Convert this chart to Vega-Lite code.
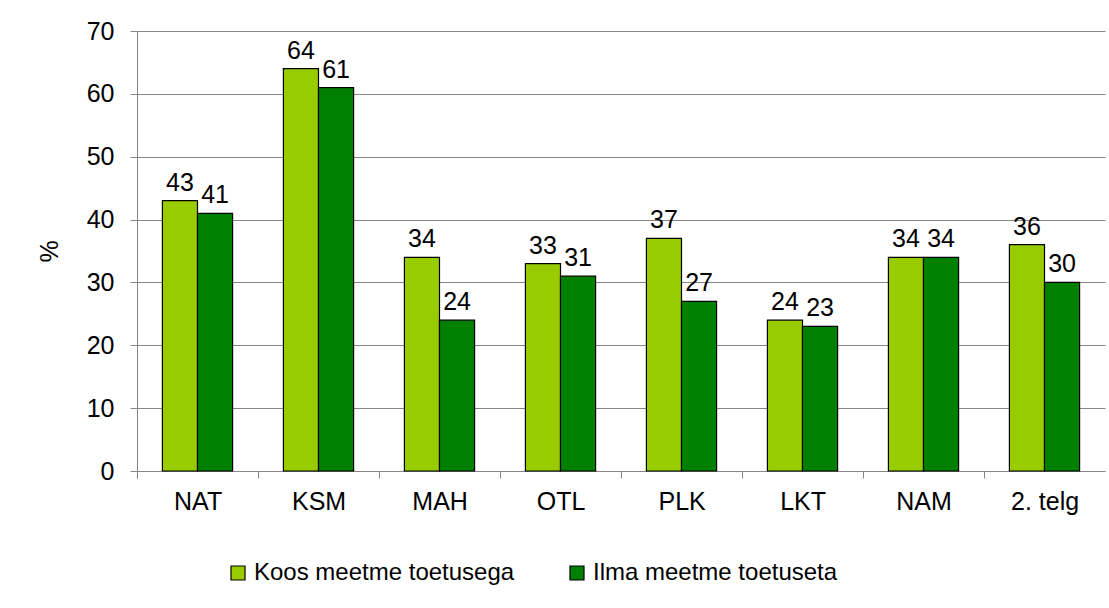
{
  "$schema": "https://vega.github.io/schema/vega-lite/v6.json",
  "width": 968,
  "height": 440,
  "autosize": "none",
  "padding": {"left": 137, "top": 31, "right": 4, "bottom": 137},
  "background": "white",
  "data": {
    "values": [
      {"cat": "NAT", "series": "Koos meetme toetusega", "value": 43},
      {"cat": "NAT", "series": "Ilma meetme toetuseta", "value": 41},
      {"cat": "KSM", "series": "Koos meetme toetusega", "value": 64},
      {"cat": "KSM", "series": "Ilma meetme toetuseta", "value": 61},
      {"cat": "MAH", "series": "Koos meetme toetusega", "value": 34},
      {"cat": "MAH", "series": "Ilma meetme toetuseta", "value": 24},
      {"cat": "OTL", "series": "Koos meetme toetusega", "value": 33},
      {"cat": "OTL", "series": "Ilma meetme toetuseta", "value": 31},
      {"cat": "PLK", "series": "Koos meetme toetusega", "value": 37},
      {"cat": "PLK", "series": "Ilma meetme toetuseta", "value": 27},
      {"cat": "LKT", "series": "Koos meetme toetusega", "value": 24},
      {"cat": "LKT", "series": "Ilma meetme toetuseta", "value": 23},
      {"cat": "NAM", "series": "Koos meetme toetusega", "value": 34},
      {"cat": "NAM", "series": "Ilma meetme toetuseta", "value": 34},
      {"cat": "2. telg", "series": "Koos meetme toetusega", "value": 36},
      {"cat": "2. telg", "series": "Ilma meetme toetuseta", "value": 30}
    ]
  },
  "encoding": {
    "x": {
      "field": "cat",
      "type": "nominal",
      "sort": null,
      "title": null,
      "scale": {"paddingInner": 0.42, "paddingOuter": 0.21},
      "axis": {
        "labelAngle": 0,
        "ticks": true,
        "bandPosition": 0,
        "tickOffset": -25.4,
        "labelOffset": 25.5,
        "tickExtra": true,
        "tickSize": 7,
        "tickWidth": 1,
        "tickColor": "#868686",
        "labelPadding": 11,
        "grid": false,
        "domain": true
      }
    },
    "xOffset": {
      "field": "series",
      "type": "nominal",
      "sort": ["Koos meetme toetusega", "Ilma meetme toetuseta"]
    },
    "y": {
      "field": "value",
      "type": "quantitative",
      "title": "%",
      "scale": {"domain": [0, 70], "nice": false},
      "axis": {
        "values": [0, 10, 20, 30, 40, 50, 60, 70],
        "tickSize": 7,
        "labelPadding": 16,
        "titlePadding": 24,
        "grid": true,
        "titleAngle": -90
      }
    }
  },
  "layer": [
    {
      "mark": {"type": "bar", "stroke": "black", "strokeWidth": 1.2},
      "encoding": {
        "color": {
          "field": "series",
          "type": "nominal",
          "title": null,
          "scale": {
            "domain": ["Koos meetme toetusega", "Ilma meetme toetuseta"],
            "range": ["#99CC00", "#008000"]
          },
          "legend": {
            "orient": "none",
            "direction": "horizontal",
            "legendX": 89,
            "legendY": 530,
            "symbolType": "square",
            "symbolSize": 196,
            "symbolStrokeColor": "black",
            "symbolStrokeWidth": 1.2,
            "labelFontSize": 24,
            "labelFont": "Liberation Sans",
            "labelColor": "black",
            "labelLimit": 0,
            "labelOffset": 4,
            "columnPadding": 50,
            "padding": 0
          }
        }
      }
    },
    {
      "mark": {
        "type": "text",
        "baseline": "bottom",
        "dy": -5,
        "fontSize": 25,
        "font": "Liberation Sans",
        "color": "black"
      },
      "encoding": {
        "text": {"field": "value", "type": "quantitative"}
      }
    }
  ],
  "config": {
    "view": {"stroke": null},
    "axis": {
      "labelFont": "Liberation Sans",
      "labelFontSize": 25,
      "labelColor": "black",
      "titleFont": "Liberation Sans",
      "titleFontSize": 25,
      "titleFontWeight": "normal",
      "titleColor": "black",
      "domainColor": "#868686",
      "tickColor": "#868686",
      "gridColor": "#868686",
      "domainWidth": 1,
      "gridWidth": 1
    }
  }
}
